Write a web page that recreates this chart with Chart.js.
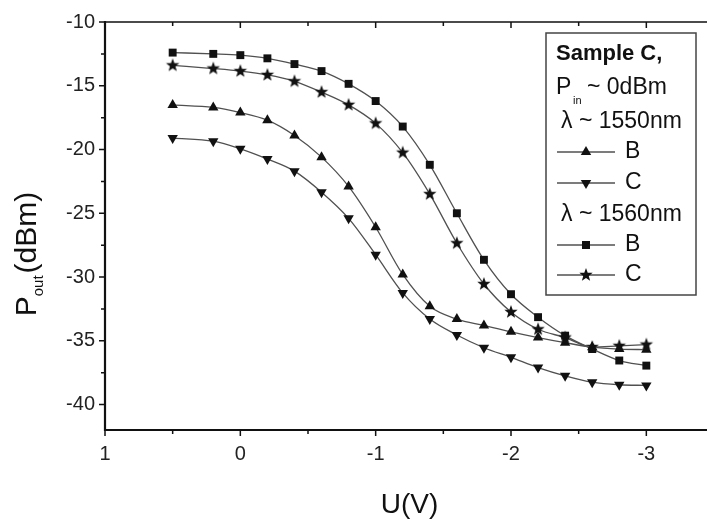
<!DOCTYPE html>
<html>
<head>
<meta charset="utf-8">
<script src="https://cdn.jsdelivr.net/npm/chart.js@4.4.1/dist/chart.umd.min.js"></script>
<style>
  html, body { margin: 0; padding: 0; background: #fff; overflow: hidden; }
  #wrap { width: 720px; height: 522px; }
</style>
</head>
<body>
<div id="wrap"><canvas id="chart" width="720" height="522"></canvas></div>
<script>
// bias voltage U (V)
const voltage = [0.5, 0.2, 0, -0.2, -0.4, -0.6, -0.8, -1.0, -1.2, -1.4, -1.6, -1.8, -2.0, -2.2, -2.4, -2.6, -2.8, -3.0];
// output power (dBm), lambda ~ 1550nm
const b1550 = [-16.5, -16.7, -17.1, -17.7, -18.9, -20.6, -22.9, -26.1, -29.8, -32.3, -33.3, -33.8, -34.3, -34.75, -35.15, -35.5, -35.65, -35.7];
const c1550 = [-19.1, -19.35, -19.95, -20.75, -21.7, -23.35, -25.4, -28.25, -31.25, -33.3, -34.55, -35.55, -36.3, -37.1, -37.75, -38.25, -38.45, -38.5];
// output power (dBm), lambda ~ 1560nm
const b1560 = [-12.4, -12.5, -12.6, -12.85, -13.3, -13.85, -14.85, -16.2, -18.2, -21.2, -25.0, -28.65, -31.35, -33.15, -34.6, -35.65, -36.55, -36.95];
const c1560 = [-13.4, -13.65, -13.85, -14.15, -14.65, -15.5, -16.5, -17.95, -20.25, -23.5, -27.35, -30.55, -32.75, -34.1, -34.75, -35.5, -35.4, -35.3];

const xTickLabels = [1, 0, -1, -2, -3];
const yTickLabels = [-10, -15, -20, -25, -30, -35, -40];

const FONT = "'Liberation Sans', Arial, Helvetica, sans-serif";
const INK = '#111';
const LINE = '#505050';

// filled five point star used as a marker
function makeStar(size, outer, inner) {
    const c = document.createElement('canvas');
    c.width = size; c.height = size;
    const g = c.getContext('2d');
    g.fillStyle = INK;
    g.beginPath();
    for (let i = 0; i < 10; i++) {
        const r = i % 2 === 0 ? outer : inner;
        const a = -Math.PI / 2 + i * Math.PI / 5;
        const px = size / 2 + r * Math.cos(a);
        const py = size / 2 + r * Math.sin(a);
        if (i === 0) g.moveTo(px, py); else g.lineTo(px, py);
    }
    g.closePath();
    g.fill();
    return c;
}
const starImg = makeStar(16, 7, 2.9);

const toPoints = vals => voltage.map((x, i) => ({ x: x, y: vals[i] }));

const series = [
    { label: 'B 1550nm', data: b1550, style: 'triangle', rot: 0 },
    { label: 'C 1550nm', data: c1550, style: 'triangle', rot: 180 },
    { label: 'B 1560nm', data: b1560, style: 'rect', rot: 0 },
    { label: 'C 1560nm', data: c1560, style: starImg, rot: 0 }
];

// small helper for legend markers
function drawMarker(ctx, style, rot, x, y) {
    ctx.save();
    ctx.fillStyle = INK;
    if (style === 'rect') {
        ctx.fillRect(x - 4, y - 4, 8, 8);
    } else if (style === 'triangle') {
        const r = 6;
        const s = rot === 180 ? -1 : 1;
        ctx.beginPath();
        ctx.moveTo(x, y - s * r);
        ctx.lineTo(x - r * 0.87, y + s * r * 0.5);
        ctx.lineTo(x + r * 0.87, y + s * r * 0.5);
        ctx.closePath();
        ctx.fill();
    } else {
        ctx.drawImage(style, x - style.width / 2, y - style.height / 2);
    }
    ctx.restore();
}

const decorPlugin = {
    id: 'decor',
    afterDatasetsDraw(chart) {
        const ctx = chart.ctx;
        const a = chart.chartArea;
        const xs = chart.scales.x, ys = chart.scales.y;
        ctx.save();
        ctx.strokeStyle = INK;

        // frame
        ctx.lineWidth = 1.5;
        ctx.beginPath();
        ctx.moveTo(a.left, a.top); ctx.lineTo(a.right, a.top); ctx.lineTo(a.right, a.bottom);
        ctx.stroke();
        ctx.lineWidth = 2.2;
        ctx.beginPath();
        ctx.moveTo(a.left, a.top - 1); ctx.lineTo(a.left, a.bottom); ctx.lineTo(a.right, a.bottom);
        ctx.stroke();

        // x ticks (major every 1, minor every 0.5)
        ctx.lineWidth = 1.5;
        for (let v = 1; v >= -3.5; v -= 0.5) {
            const px = xs.getPixelForValue(v);
            const len = Number.isInteger(v) ? 6 : 4;
            ctx.beginPath();
            ctx.moveTo(px, a.bottom); ctx.lineTo(px, a.bottom + len);
            ctx.moveTo(px, a.top); ctx.lineTo(px, a.top + len);
            ctx.stroke();
        }
        // y ticks (major every 5, minor every 2.5)
        for (let v = -10; v >= -42; v -= 2.5) {
            const py = ys.getPixelForValue(v);
            const len = v % 5 === 0 ? 6 : 4;
            ctx.beginPath();
            ctx.moveTo(a.left, py); ctx.lineTo(a.left - len, py);
            ctx.moveTo(a.right, py); ctx.lineTo(a.right - len, py);
            ctx.stroke();
        }

        // axis titles
        ctx.fillStyle = INK;
        ctx.textBaseline = 'alphabetic';
        ctx.font = '28px ' + FONT;
        ctx.textAlign = 'center';
        ctx.fillText('U(V)', (a.left + a.right) / 2, 513);

        ctx.save();
        ctx.translate(36, 254);
        ctx.rotate(-Math.PI / 2);
        ctx.textAlign = 'left';
        const big = '30px ' + FONT, small = '15px ' + FONT;
        ctx.font = big; const wP = ctx.measureText('P').width;
        ctx.font = small; const wSub = ctx.measureText('out').width;
        ctx.font = big; const wRest = ctx.measureText('(dBm)').width;
        let tx = -(wP + wSub + 2 + wRest) / 2;
        ctx.font = big; ctx.fillText('P', tx, 0); tx += wP;
        ctx.font = small; ctx.fillText('out', tx, 7); tx += wSub + 2;
        ctx.font = big; ctx.fillText('(dBm)', tx, 0);
        ctx.restore();

        // legend box
        const bx = 546, by = 33, bw = 150, bh = 262;
        ctx.lineWidth = 1.5;
        ctx.strokeStyle = '#444';
        ctx.strokeRect(bx, by, bw, bh);
        ctx.textAlign = 'left';
        ctx.textBaseline = 'middle';
        ctx.font = 'bold 22px ' + FONT;
        ctx.fillText('Sample C,', 556, 54);
        ctx.font = '23px ' + FONT;
        ctx.fillText('P', 556, 88);
        ctx.font = '11px ' + FONT;
        ctx.fillText('in', 573, 101);
        ctx.font = '23px ' + FONT;
        ctx.fillText('~ 0dBm', 587, 88);
        ctx.fillText('\u03bb ~ 1550nm', 561, 122);
        ctx.fillText('\u03bb ~ 1560nm', 561, 215);
        const rows = [152, 183, 245, 275];
        series.forEach((s, i) => {
            const yy = rows[i];
            ctx.strokeStyle = LINE;
            ctx.lineWidth = 1.3;
            ctx.beginPath();
            ctx.moveTo(557, yy); ctx.lineTo(615, yy);
            ctx.stroke();
            drawMarker(ctx, s.style, s.rot, 586, yy);
            ctx.fillStyle = INK;
            ctx.font = '23px ' + FONT;
            ctx.fillText(s.label.charAt(0), 625, yy);
        });
        ctx.restore();
    }
};

new Chart(document.getElementById('chart'), {
    type: 'line',
    data: {
        datasets: series.map(s => ({
            label: s.label,
            data: toPoints(s.data),
            borderColor: LINE,
            borderWidth: 1.3,
            pointStyle: s.style,
            pointRotation: s.rot,
            pointRadius: s.style === 'rect' ? 5.6 : 6,
            pointBackgroundColor: INK,
            pointBorderColor: INK,
            pointBorderWidth: 0,
            cubicInterpolationMode: 'monotone',
            fill: false
        }))
    },
    options: {
        responsive: false,
        animation: false,
        devicePixelRatio: 1,
        layout: { padding: { top: 19, right: 6, left: 0, bottom: 0 } },
        plugins: {
            legend: { display: false },
            tooltip: { enabled: false }
        },
        scales: {
            x: {
                type: 'linear',
                reverse: true,
                min: -3.5,
                max: 1,
                afterBuildTicks: s => { s.ticks = xTickLabels.map(v => ({ value: v })); },
                afterFit: s => { s.height = 92; },
                grid: { display: false, drawTicks: false },
                border: { display: false },
                ticks: {
                    padding: 12,
                    color: '#222',
                    font: { family: FONT, size: 20 },
                    maxRotation: 0,
                    autoSkip: false,
                    callback: v => String(v)
                }
            },
            y: {
                type: 'linear',
                min: -42,
                max: -10,
                afterBuildTicks: s => { s.ticks = yTickLabels.map(v => ({ value: v })); },
                afterFit: s => { s.width = 105; },
                grid: { display: false, drawTicks: false },
                border: { display: false },
                ticks: {
                    padding: 10,
                    color: '#222',
                    font: { family: FONT, size: 20 },
                    autoSkip: false,
                    callback: v => String(v)
                }
            }
        }
    },
    plugins: [decorPlugin]
});
</script>
</body>
</html>
